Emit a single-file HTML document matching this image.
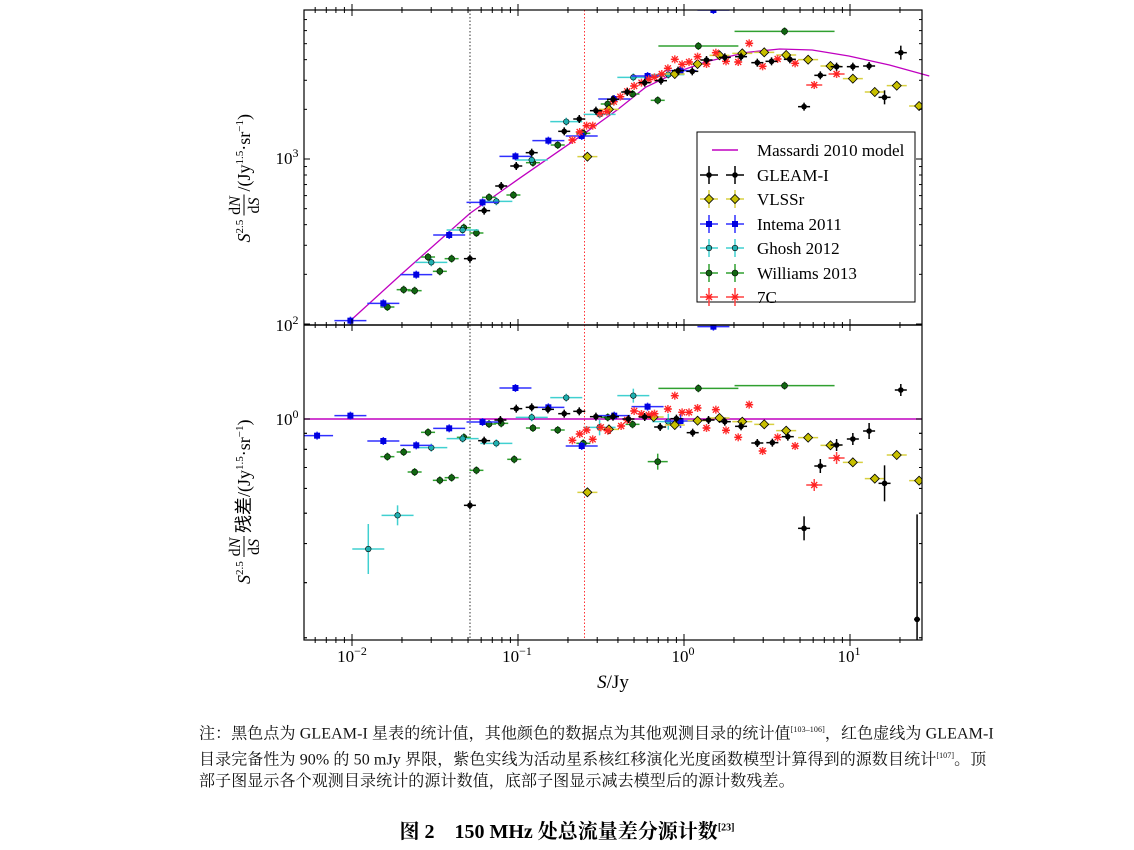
<!DOCTYPE html>
<html><head><meta charset="utf-8"><style>
body{margin:0;background:#fff;width:1134px;height:850px;overflow:hidden;position:relative;font-family:"Liberation Serif","Noto Serif CJK SC",serif}
.cap{position:absolute;left:199px;font-size:16px;white-space:nowrap;color:#111;line-height:18px}
</style></head><body>
<svg id="s" width="1134" height="700" style="position:absolute;left:0;top:0" xmlns="http://www.w3.org/2000/svg" font-family="Liberation Serif, serif"></svg>
<div class="cap" style="top:721px;letter-spacing:0.1px">注：黑色点为 GLEAM-I 星表的统计值，其他颜色的数据点为其他观测目录的统计值<sup style="font-size:8px">[103–106]</sup>，红色虚线为 GLEAM-I</div>
<div class="cap" style="top:747px;letter-spacing:0.1px">目录完备性为 90% 的 50 mJy 界限，紫色实线为活动星系核红移演化光度函数模型计算得到的源数目统计<sup style="font-size:8px">[107]</sup>。顶</div>
<div class="cap" style="top:773px;letter-spacing:0.1px">部子图显示各个观测目录统计的源计数值，底部子图显示减去模型后的源计数残差。</div>
<div style="position:absolute;top:815px;left:0;width:1134px;text-align:center;font-size:20px;font-weight:bold">图 2　150 MHz 处总流量差分源计数<sup style="font-size:10px">[23]</sup></div>
<script>
const s=document.getElementById('s');let h='';
const L=304,R=922,T=10,M=325,B=640;
const X=zx=>300+zx/2.46;
const Y1=zy=>zy/3, Y2=zy=>320+zy/3;
let mp=[[124,962],[250,822],[418,640],[540,535],[700,400],[780,330],[850,262],[930,215],[1000,185],[1100,157],[1180,147],[1260,150],[1350,168],[1450,195],[1548,228]];
h+=`<polyline fill="none" stroke="#c000c0" stroke-width="1.3" points="${mp.map(p=>X(p[0])+','+Y1(p[1])).join(' ')}"/>`;
h+=`<line x1="${L}" x2="${R}" y1="419" y2="419" stroke="#c000c0" stroke-width="1.5"/>`;
h+=`<line x1="470" x2="470" y1="${T}" y2="${B}" stroke="#333" stroke-dasharray="1.5,2" stroke-width="1"/>`;
h+=`<line x1="584.5" x2="584.5" y1="${T}" y2="${B}" stroke="#f33" stroke-dasharray="1.5,2" stroke-width="1"/>`;
function mk(t,x,y){
 if(t=='k')return `<circle cx="${x}" cy="${y}" r="2.8" fill="#000"/>`;
 if(t=='y')return `<polygon points="${x},${y-4.5} ${x+4.5},${y} ${x},${y+4.5} ${x-4.5},${y}" fill="#c8c000" stroke="#000" stroke-width="0.8"/>`;
 if(t=='b')return `<rect x="${x-3}" y="${y-3}" width="6" height="6" fill="#0000e0"/>`;
 if(t=='c')return `<circle cx="${x}" cy="${y}" r="2.8" fill="#20b0b0" stroke="#000" stroke-width="0.6"/>`;
 if(t=='g')return `<circle cx="${x}" cy="${y}" r="3" fill="#116611" stroke="#000" stroke-width="0.6"/>`;
 if(t=='r')return `<g stroke="#ff2020" stroke-width="1.3"><line x1="${x-3}" y1="${y-3}" x2="${x+3}" y2="${y+3}"/><line x1="${x+3}" y1="${y-3}" x2="${x-3}" y2="${y+3}"/><line x1="${x-3.5}" y1="${y}" x2="${x+3.5}" y2="${y}"/></g>`;
}
const col={k:'#000',y:'#d8d040',b:'#3030ff',c:'#40d0d0',g:'#30a030',r:'#ff4040'};
const hw={k:6,y:10,b:16,c:16,g:7,r:4};
function pts(t,arr,Y){arr.forEach(p=>{const x=X(p[0]),y=Y(p[1]);const w=p[2]||hw[t],v=p[3]||4;
 h+=`<line x1="${x-w}" x2="${x+w}" y1="${y}" y2="${y}" stroke="${col[t]}" stroke-width="1.5"/><line x1="${x}" x2="${x}" y1="${y-v}" y2="${y+v}" stroke="${col[t]}" stroke-width="1.5"/>`+mk(t,x,y);});}
h+=`<clipPath id="c1"><rect x="${L}" y="${T}" width="${R-L}" height="${M-T}"/></clipPath><g clip-path="url(#c1)">`;
pts('g',[[215,921],[255,869],[282,872],[315,771],[344,814],[373,776],[403,683],[434,699],[465,592],[525,585],[573,488],[634,435],[697,400],[757,312],[818,282],[880,301],[980,138,40],[1192,94,50]],Y1);
pts('c',[[323,787],[400,690],[483,604],[570,480],[655,365],[737,343],[820,232],[906,224]],Y1);
pts('b',[[124,962],[205,910],[286,824],[367,705],[449,607],[530,469],[611,422],[693,408],[773,297],[855,228],[936,212],[1017,30]],Y1);
pts('y',[[707,470],[760,328],[922,222],[978,192],[1032,166],[1088,160],[1142,157],[1196,165],[1250,179],[1305,198],[1360,236],[1414,276],[1468,257],[1523,318]],Y1);
pts('r',[[670,420],[688,396],[705,377],[720,377],[738,340],[755,335],[772,305],[788,290],[805,274],[822,258],[840,248],[858,238],[872,232],[890,222],[905,205],[922,178],[940,193],[957,186],[978,170],[1000,192],[1023,158],[1048,184],[1078,186],[1105,130],[1138,199],[1175,177],[1218,190],[1265,255,8],[1320,222,8]],Y1);
pts('k',[[418,776],[453,632],[495,558],[532,498],[570,458],[650,394],[687,357],[728,332],[770,298],[805,276],[848,248],[888,242],[930,212],[965,214],[1000,180],[1045,172],[1085,170],[1125,188],[1160,184],[1205,178],[1240,320],[1280,226],[1320,200],[1360,200],[1400,198],[1438,292,6,7],[1478,158,6,7]],Y1);
h+=`</g>`;
h+=`<clipPath id="c2"><rect x="${L}" y="${M}" width="${R-L}" height="${B-M}"/></clipPath><g clip-path="url(#c2)">`;
pts('g',[[215,410],[255,396],[282,456],[315,337],[344,481],[373,473],[403,352],[434,451],[465,312],[495,310],[527,418],[573,324],[634,330],[697,370],[757,292],[818,313],[880,425,10,8],[980,205,40],[1192,197,50]],Y2);
pts('c',[[168,687,16,25],[240,586,16,10],[323,383],[400,356],[483,370],[570,292],[655,233],[737,322,16,8],[820,227,16,7],[906,305,16,8]],Y2);
pts('b',[[42,347],[124,287],[205,363],[286,376],[367,325],[449,306],[530,204],[611,262],[693,378],[773,287],[855,260],[936,303,16,7],[1017,20]],Y2);
pts('y',[[707,517],[760,328],[870,291],[922,315],[978,302],[1032,294],[1088,305],[1142,313],[1196,332],[1250,353],[1305,376],[1360,427],[1414,476],[1468,405],[1523,482]],Y2);
pts('r',[[670,361],[688,342],[705,330],[720,358],[740,322],[757,332],[790,318],[805,300],[822,273],[840,282],[858,285],[872,281],[905,267],[922,227],[940,277],[957,277],[978,264],[1000,324],[1023,269],[1048,331],[1078,352],[1105,254],[1138,393],[1175,352],[1218,378],[1265,495,8,6],[1320,414,8,6]],Y2);
pts('k',[[418,556],[453,362],[493,300],[532,266],[570,262],[610,268],[650,281],[687,274],[728,290],[770,290],[808,297],[848,291],[886,321],[926,296],[966,338],[1005,300],[1045,305],[1085,319],[1125,369],[1162,368],[1200,350],[1240,625,6,12],[1280,438,6,7],[1320,375,6,6],[1360,357,6,6],[1400,333,6,8],[1438,490,6,18],[1478,210,6,6],[1518,898,3,105]],Y2);
h+=`</g>`;
h+=`<rect x="${L}" y="${T}" width="${R-L}" height="${B-T}" fill="none" stroke="#000" stroke-width="1.2"/><line x1="${L}" x2="${R}" y1="${M}" y2="${M}" stroke="#000" stroke-width="1.5"/>`;
const xs=v=>684+166*Math.log10(v);
for(let d=-3;d<=1;d++)for(let m=1;m<10;m++){const x=xs(m*Math.pow(10,d));if(x<L||x>R)continue;const l=m==1?6:3;
 [T,M,B].forEach(y=>{h+=`<line x1="${x}" x2="${x}" y1="${y}" y2="${y-l}" stroke="#000"/><line x1="${x}" x2="${x}" y1="${y}" y2="${y+l}" stroke="#000"/>`;});}
for(let d=2;d<4;d++)for(let m=1;m<10;m++){const y=324-165*Math.log10(m*Math.pow(10,d)/100);if(y<T)continue;const l=m==1?6:3;
 h+=`<line x1="${L}" x2="${L+l}" y1="${y}" y2="${y}" stroke="#000"/><line x1="${R}" x2="${R-l}" y1="${y}" y2="${y}" stroke="#000"/>`;}
for(let m=2;m<10;m++){const y=419-313*Math.log10(m/10);if(y>M)h+=`<line x1="${L}" x2="${L+3}" y1="${y}" y2="${y}" stroke="#000"/><line x1="${R}" x2="${R-3}" y1="${y}" y2="${y}" stroke="#000"/>`;
 const y2=419+313*(1-Math.log10(m));if(y2<B)h+=`<line x1="${L}" x2="${L+3}" y1="${y2}" y2="${y2}" stroke="#000"/><line x1="${R}" x2="${R-3}" y1="${y2}" y2="${y2}" stroke="#000"/>`;}
h+=`<line x1="${L}" x2="${L+6}" y1="419" y2="419" stroke="#000"/><line x1="${R}" x2="${R-6}" y1="419" y2="419" stroke="#000"/>`;
const tl=(x,y,e)=>`<text x="${x}" y="${y}" font-size="17" text-anchor="middle">10<tspan dy="-7" font-size="12">${e}</tspan></text>`;
h+=tl(352,662,'−2')+tl(517,662,'−1')+tl(683,662,'0')+tl(849,662,'1');
h+=tl(287,164,'3')+tl(287,331,'2')+tl(287,425,'0');
h+=`<text x="613" y="688" font-size="19" text-anchor="middle"><tspan font-style="italic">S</tspan>/Jy</text>`;
function ylab(cy,len,extra){const x0=-len/2;
 return `<g transform="translate(244,${cy}) rotate(-90)" font-size="18">
 <text x="${x0}" y="6"><tspan font-style="italic">S</tspan><tspan dy="-7" font-size="11">2.5</tspan></text>
 <text x="${x0+37}" y="-4" font-size="16" text-anchor="middle">d<tspan font-style="italic">N</tspan></text>
 <line x1="${x0+27}" x2="${x0+48}" y1="0" y2="0" stroke="#000" stroke-width="1"/>
 <text x="${x0+37}" y="15" font-size="16" text-anchor="middle">d<tspan font-style="italic">S</tspan></text>
 <text x="${x0+51}" y="6">${extra}/(Jy<tspan dy="-7" font-size="11">1.5</tspan><tspan dy="7">·sr</tspan><tspan dy="-7" font-size="11">−1</tspan><tspan dy="7">)</tspan></text></g>`;}
h+=ylab(165,155,'')+ylab(488,192,'残差');
h+=`<rect x="697" y="132" width="218" height="170" fill="#fff" stroke="#000" stroke-width="1"/>`;
h+=`<line x1="712" x2="738" y1="150" y2="150" stroke="#c000c0" stroke-width="1.5"/><text x="757" y="156" font-size="17">Massardi 2010 model</text>`;
const lg=[['k','GLEAM-I',175],['y','VLSSr',199],['b','Intema 2011',224],['c','Ghosh 2012',248],['g','Williams 2013',273],['r','7C',297]];
lg.forEach(e=>{[709,735].forEach(x=>{h+=`<line x1="${x-9}" x2="${x+9}" y1="${e[2]}" y2="${e[2]}" stroke="${col[e[0]]}" stroke-width="1.5"/><line x1="${x}" x2="${x}" y1="${e[2]-9}" y2="${e[2]+9}" stroke="${col[e[0]]}" stroke-width="1.5"/>`+mk(e[0],x,e[2]);});
 h+=`<text x="757" y="${e[2]+6}" font-size="17">${e[1]}</text>`;});
s.innerHTML=h;
</script>
</body></html>
